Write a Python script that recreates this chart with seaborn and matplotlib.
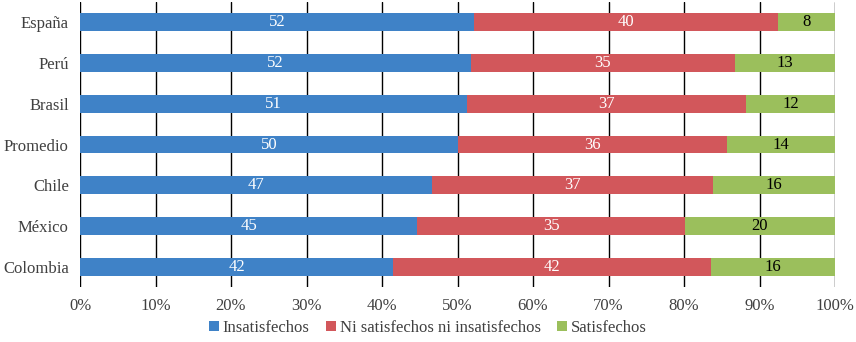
import numpy as np
import pandas as pd
import matplotlib
matplotlib.use("Agg")
import matplotlib.pyplot as plt
import seaborn as sns

# data (percent of respondents)
countries = ["España", "Perú", "Brasil", "Promedio", "Chile", "México", "Colombia"]
insatisfechos = [52.2, 51.8, 51.3, 50.1, 46.6, 44.7, 41.5]
ni_ni = [40.2, 34.9, 36.9, 35.6, 37.3, 35.4, 42.1]
satisfechos = [7.6, 13.3, 11.8, 14.3, 16.1, 19.9, 16.4]
series_names = ["Insatisfechos", "Ni satisfechos ni insatisfechos", "Satisfechos"]
colors = ["#3F82C7", "#D2575B", "#9BBF5C"]
text_colors = ["white", "white", "black"]

sns.set_style("white")
plt.rcParams["font.family"] = ["Liberation Serif", "DejaVu Serif"]

df = pd.DataFrame({"pais": countries, "s0": insatisfechos, "s1": ni_ni, "s2": satisfechos})
df["c0"] = df["s0"]
df["c1"] = df["s0"] + df["s1"]
df["c2"] = df["c1"] + df["s2"]

fig = plt.figure(figsize=(8.56, 3.42), dpi=100)
ax = fig.add_axes([80 / 856, 1 - 287 / 342, (835 - 80) / 856, 285 / 342])

# stacked bars: draw cumulative totals back to front
for i in [2, 1, 0]:
    sns.barplot(data=df, x=f"c{i}", y="pais", orient="y", color=colors[i],
                width=0.44, saturation=1, label=series_names[i], ax=ax,
                linewidth=0, zorder=3)

# segment labels
for i in range(3):
    starts = df[f"c{i}"] - df[f"s{i}"]
    for j, (st, v) in enumerate(zip(starts, df[f"s{i}"])):
        ax.text(st + v / 2, j, f"{v:.0f}", ha="center", va="center",
                color=text_colors[i], fontsize=12, zorder=4)

ax.set_xlim(0, 100)
ax.set_ylim(6.5, -0.5)
ax.set_xticks(np.arange(0, 101, 10))
ax.set_xticklabels([f"{t}%" for t in range(0, 101, 10)])
ax.set_xlabel("")
ax.set_ylabel("")
ax.grid(axis="x", color="black", linewidth=1, zorder=0)
ax.grid(axis="y", visible=False)
for s in ax.spines.values():
    s.set_visible(False)
ax.tick_params(axis="both", length=0, labelsize=12, labelcolor="#404040")
ax.tick_params(axis="x", pad=8)
ax.tick_params(axis="y", pad=8)

handles, labels = ax.get_legend_handles_labels()
if ax.get_legend() is not None:
    ax.get_legend().remove()
handles, labels = handles[::-1], labels[::-1]
fig.legend(handles, labels, loc="center", bbox_to_anchor=(0.5, 1 - 328 / 342),
           ncol=3, frameon=False, fontsize=12, handlelength=0.6, handleheight=0.6,
           handletextpad=0.2, columnspacing=1.0, labelcolor="#404040")

fig.savefig("out.png", dpi=100)
